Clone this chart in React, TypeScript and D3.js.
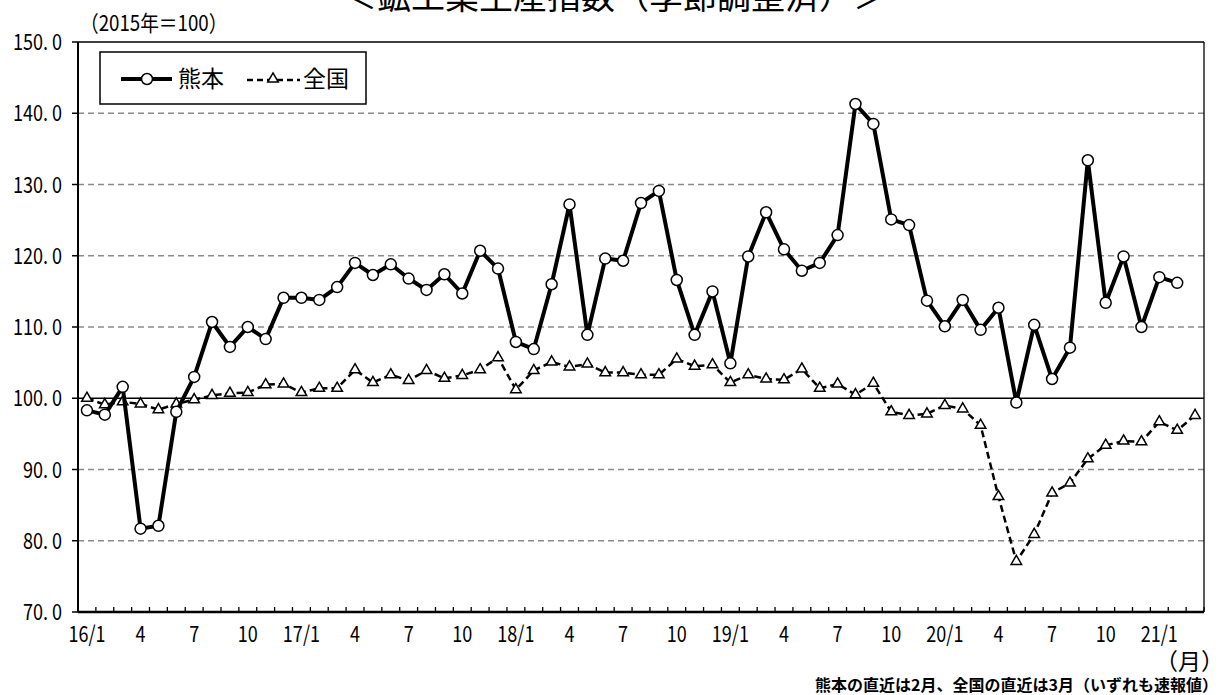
import React from "react";
import * as d3 from "d3";

const months: string[] = [
  "16/1","16/2","16/3","16/4","16/5","16/6","16/7","16/8","16/9","16/10","16/11","16/12",
  "17/1","17/2","17/3","17/4","17/5","17/6","17/7","17/8","17/9","17/10","17/11","17/12",
  "18/1","18/2","18/3","18/4","18/5","18/6","18/7","18/8","18/9","18/10","18/11","18/12",
  "19/1","19/2","19/3","19/4","19/5","19/6","19/7","19/8","19/9","19/10","19/11","19/12",
  "20/1","20/2","20/3","20/4","20/5","20/6","20/7","20/8","20/9","20/10","20/11","20/12",
  "21/1","21/2","21/3",
];

const tickLabels: string[] = [
  "16/1","","","4","","","7","","","10","","",
  "17/1","","","4","","","7","","","10","","",
  "18/1","","","4","","","7","","","10","","",
  "19/1","","","4","","","7","","","10","","",
  "20/1","","","4","","","7","","","10","","",
  "21/1","","",
];

const kumamoto: number[] = [
  98.3, 97.7, 101.6, 81.7, 82.1, 98.1, 103.0, 110.7, 107.2, 110.0, 108.3, 114.1,
  114.1, 113.8, 115.6, 119.0, 117.3, 118.8, 116.8, 115.2, 117.4, 114.7, 120.7, 118.2,
  107.9, 106.9, 116.0, 127.2, 108.9, 119.6, 119.3, 127.4, 129.1, 116.6, 108.9, 115.0,
  104.9, 119.9, 126.1, 120.9, 117.9, 119.0, 122.9, 141.3, 138.5, 125.1, 124.3, 113.7,
  110.1, 113.8, 109.6, 112.7, 99.4, 110.3, 102.7, 107.1, 133.4, 113.4, 119.9, 110.0,
  117.0, 116.2,
];

const national: number[] = [
  100.0, 99.1, 99.5, 99.2, 98.4, 99.2, 99.8, 100.4, 100.7, 100.8, 101.9, 102.0,
  100.8, 101.4, 101.4, 104.0, 102.2, 103.3, 102.5, 103.9, 102.8, 103.2, 104.0, 105.7,
  101.2, 103.9, 105.1, 104.4, 104.8, 103.6, 103.6, 103.3, 103.3, 105.5, 104.5, 104.7,
  102.2, 103.3, 102.7, 102.6, 104.1, 101.4, 102.0, 100.5, 102.1, 98.1, 97.6, 97.8,
  99.0, 98.5, 96.2, 86.2, 77.1, 80.9, 86.7, 88.1, 91.5, 93.4, 94.0, 93.9,
  96.7, 95.5, 97.6,
];

const yTicks: number[] = [70, 80, 90, 100, 110, 120, 130, 140, 150];

const FONT = "'Noto Sans CJK JP', 'Noto Sans', sans-serif";

function NarrowText(props: { x: number; y: number; anchor?: string; size: number; sx?: number; children: React.ReactNode; weight?: string }) {
  const sx = props.sx ?? 0.82;
  return (
    <g transform={`translate(${props.x},${props.y}) scale(${sx},1)`}>
      <text x={0} y={0} textAnchor={props.anchor || "start"} fontSize={props.size} fontWeight={props.weight} fill="#000">{props.children}</text>
    </g>
  );
}

export default function App() {
  const W = 1224, H = 695;
  const left = 78, right = 1204, top = 42, bottom = 612;

  const x = d3.scaleBand<string>().domain(months).range([left, right]).padding(0);
  const y = d3.scaleLinear().domain([70, 150]).range([bottom, top]);
  const cx = (m: string) => (x(m) as number) + x.bandwidth() / 2;

  const kData = kumamoto.map((v, i) => ({ m: months[i], v }));
  const nData = national.map((v, i) => ({ m: months[i], v }));

  const line = d3.line<{ m: string; v: number }>().x(d => cx(d.m)).y(d => y(d.v));
  const tri = d3.symbol().type(d3.symbolTriangle).size(48)();

  return (
    <svg width={W} height={H} style={{ position: "absolute", left: 0, top: 0, background: "#fff" }} fontFamily={FONT}>
      <rect x={0} y={0} width={W} height={H} fill="#fff" />
      {/* title (cut at top in the original) */}
      <text x={615} y={9} textAnchor="middle" fontSize={34} fill="#000">＜鉱工業生産指数（季節調整済）＞</text>
      <NarrowText x={80} y={31} size={22} sx={0.85}>（2015年＝100）</NarrowText>

      {/* gridlines */}
      {yTicks.filter(t => t !== 70 && t !== 100 && t !== 150).map(t => (
        <line key={"g" + t} x1={left} x2={right} y1={y(t)} y2={y(t)} stroke="#8a8a8a" strokeWidth={1.3} strokeDasharray="6,4" />
      ))}
      <line x1={left} x2={right} y1={y(100)} y2={y(100)} stroke="#000" strokeWidth={1.5} />
      {/* border top/right */}
      <line x1={left} x2={right} y1={y(150)} y2={y(150)} stroke="#000" strokeWidth={1.3} />
      <line x1={right} x2={right} y1={top} y2={bottom} stroke="#000" strokeWidth={1.3} />

      {/* y axis */}
      <line x1={left} x2={left} y1={top} y2={bottom} stroke="#000" strokeWidth={2} />
      {yTicks.map(t => (
        <g key={"y" + t}>
          <line x1={left - 6} x2={left} y1={y(t)} y2={y(t)} stroke="#000" strokeWidth={1.5} />
          <NarrowText x={62} y={y(t) + 8} anchor="end" size={22}>{t.toFixed(1).replace(".", ". ")}</NarrowText>
        </g>
      ))}

      {/* x axis */}
      {months.map(m => (
        <line key={"xt" + m} x1={(x(m) as number) + x.bandwidth()} x2={(x(m) as number) + x.bandwidth()} y1={bottom - 5} y2={bottom} stroke="#000" strokeWidth={1.3} />
      ))}
      <line x1={left} x2={right} y1={bottom} y2={bottom} stroke="#000" strokeWidth={2.5} />
      {months.map((m, i) => tickLabels[i] ? (
        <NarrowText key={"xl" + m} x={cx(m)} y={642} anchor="middle" size={22}>{tickLabels[i]}</NarrowText>
      ) : null)}
      <text x={1224} y={670} textAnchor="end" fontSize={23} fill="#000">（月）</text>
      <text x={1218} y={691} textAnchor="end" fontSize={16} fontWeight="bold" fill="#000">熊本の直近は2月、全国の直近は3月（いずれも速報値）</text>

      {/* national */}
      <path d={line(nData) || ""} fill="none" stroke="#000" strokeWidth={2.5} strokeDasharray="7,4" />
      {nData.map(d => (
        <path key={"n" + d.m} d={tri || ""} transform={`translate(${cx(d.m)},${y(d.v)})`} fill="#fff" stroke="#000" strokeWidth={1.5} />
      ))}

      {/* kumamoto */}
      <path d={line(kData) || ""} fill="none" stroke="#000" strokeWidth={4} strokeLinejoin="round" />
      {kData.map(d => (
        <circle key={"k" + d.m} cx={cx(d.m)} cy={y(d.v)} r={5.5} fill="#fff" stroke="#000" strokeWidth={1.5} />
      ))}

      {/* legend */}
      <rect x={100} y={52} width={266} height={52} fill="#fff" stroke="#000" strokeWidth={1.5} />
      <line x1={121} x2={172} y1={79} y2={79} stroke="#000" strokeWidth={4} />
      <circle cx={147} cy={79} r={5.5} fill="#fff" stroke="#000" strokeWidth={1.5} />
      <text x={178} y={87} fontSize={23} fill="#000">熊本</text>
      <line x1={247} x2={300} y1={80} y2={80} stroke="#000" strokeWidth={2.5} strokeDasharray="6,4" />
      <path d={tri || ""} transform="translate(273,79)" fill="#fff" stroke="#000" strokeWidth={1.5} />
      <text x={303} y={87} fontSize={23} fill="#000">全国</text>
    </svg>
  );
}
